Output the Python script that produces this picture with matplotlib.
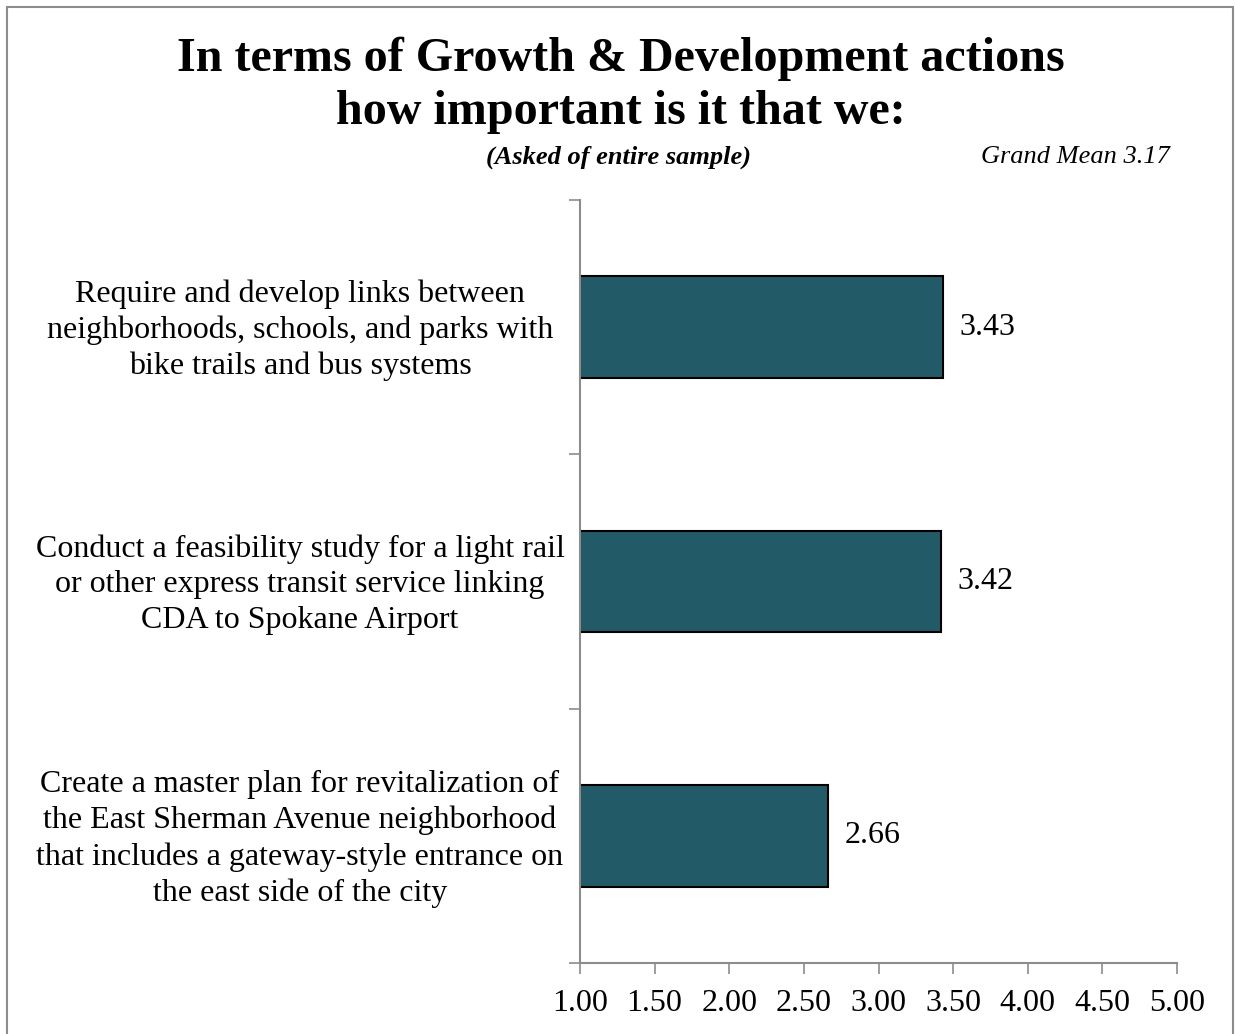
import matplotlib.pyplot as plt
import matplotlib.patches as patches

# =========================
# DATA
# =========================

categories = [
    "Require and develop links between\nneighborhoods, schools, and parks with\nbike trails and bus systems",
    "Conduct a feasibility study for a light rail\nor other express transit service linking\nCDA to Spokane Airport",
    "Create a master plan for revitalization of\nthe East Sherman Avenue neighborhood\nthat includes a gateway-style entrance on\nthe east side of the city",
]
means = [3.43, 3.42, 2.66]
x_ticks = [1.0, 1.5, 2.0, 2.5, 3.0, 3.5, 4.0, 4.5, 5.0]

title = "In terms of Growth & Development actions\nhow important is it that we:"
subtitle = "(Asked of entire sample)"
grand_mean = "Grand Mean 3.17"

# =========================
# FIGURE
# =========================

plt.rcParams['font.family'] = ['Liberation Serif', 'DejaVu Serif']

fig = plt.figure(figsize=(12.35, 10.34), dpi=100)
ax = fig.add_axes([580 / 1235, 1 - 963 / 1034, (1177 - 580) / 1235, (963 - 200) / 1034])


def fx(px):
    return px / 1235


def fy(px):
    return 1 - px / 1034


# outer border
fig.patches.append(patches.Rectangle(
    (fx(7), -0.01), fx(1233 - 7), 1 - 7 / 1034 + 0.01,
    transform=fig.transFigure, fill=False, edgecolor="#8c8c8c", linewidth=1.5
))

# =========================
# BARS
# =========================

bar_color = "#235A68"
y_pos = [2, 1, 0]

ax.barh(y_pos, [m - 1 for m in means], left=1, height=0.4,
        color=bar_color, edgecolor="black", linewidth=1.5)

for y, m in zip(y_pos, means):
    ax.text(m + 0.11, y, f"{m:.2f}", va="center", ha="left", fontsize=23)

ax.set_xlim(1, 5)
ax.set_ylim(-0.5, 2.5)
ax.set_xticks(x_ticks)
ax.set_xticklabels([f"{t:.2f}" for t in x_ticks], fontsize=23)

ax.set_yticks([-0.5, 0.5, 1.5, 2.5])
ax.set_yticklabels([])
ax.tick_params(axis="y", length=8, color="#8c8c8c", width=1.2)
ax.tick_params(axis="x", length=8, color="#8c8c8c", width=1.2, pad=11)

for side in ["top", "right"]:
    ax.spines[side].set_visible(False)
for side in ["left", "bottom"]:
    ax.spines[side].set_color("#8c8c8c")
    ax.spines[side].set_linewidth(1.5)

# category labels, centred left of the axis
for y, label in zip(y_pos, categories):
    ypix = ax.transData.transform((1, y))[1]
    fig.text(fx(300), ypix / fig.bbox.height - 0.003, label, fontsize=23,
             ha="center", va="center", linespacing=1.3)

# =========================
# TITLES
# =========================

fig.text(fx(621), fy(85), title, fontsize=34.6, fontweight="bold",
         ha="center", va="center", linespacing=1.26)
fig.text(fx(619), fy(157), subtitle, fontsize=19, fontweight="bold",
         style="italic", ha="center", va="center")
fig.text(fx(1075), fy(157), grand_mean, fontsize=19,
         style="italic", ha="center", va="center")

fig.savefig("out.png", dpi=100)
